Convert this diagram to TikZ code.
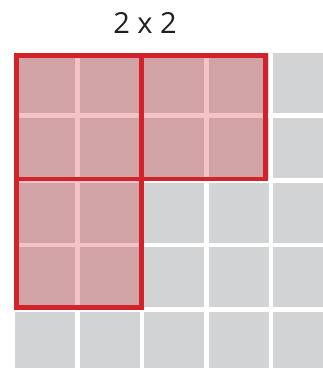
\documentclass[tikz,border=0pt]{standalone}
\usepackage{fontspec}
\setmainfont{Open Sans}
\definecolor{cellgray}{RGB}{209,211,212}
\definecolor{framered}{RGB}{211,35,42}
\definecolor{textgray}{RGB}{35,31,32}
\tikzset{
  cell/.style={fill=cellgray, draw=none},
  overlay/.style={fill=framered, fill opacity=0.27, draw=none},
  frame/.style={draw=framered, line width=4.6pt, line join=miter}
}
\begin{document}
\begin{tikzpicture}[x=1pt,y=-1pt]
\useasboundingbox (0,0) rectangle (323,368);
\clip (0,0) rectangle (323,368);
\fill[white] (0,0) rectangle (323,368);
\node[text=textgray, font=\fontsize{29}{34}\selectfont, anchor=base, inner sep=0pt] (title) at (145,33.3) {2 x 2};
\foreach \i in {0,...,4}{
  \foreach \j in {0,...,4}{
    \fill[cell] ({15+64.55*\i},{53.2+64.7*\j}) rectangle ++(60,60);
  }
}
\fill[overlay] (16.3,55.7) rectangle (141.3,179);
\fill[overlay] (141.3,55.7) rectangle (265.8,179);
\fill[overlay] (16.3,179) rectangle (141.3,307.7);
\draw[frame] (16.3,55.7) rectangle (141.3,179);
\draw[frame] (141.3,55.7) rectangle (265.8,179);
\draw[frame] (16.3,179) rectangle (141.3,307.7);
\end{tikzpicture}
\end{document}
